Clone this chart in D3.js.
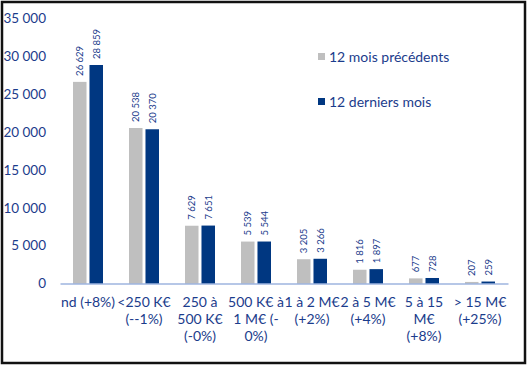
<!DOCTYPE html>
<html>
<head>
<meta charset="utf-8">
<script src="https://cdn.jsdelivr.net/npm/d3@7"></script>
<style>
  body { margin: 0; background: #fff; }
  svg { display: block; font-family: Lato, "Open Sans", sans-serif; }
</style>
</head>
<body>
<div id="chart"></div>
<script>
// categories (lines of each x label)
const categories = [
  ["nd (+8%)"],
  ["<250 K€", "(--1%)"],
  ["250 à", "500 K€", "(-0%)"],
  ["500 K€ à", "1 M€ (-", "0%)"],
  ["1 à 2 M€", "(+2%)"],
  ["2 à 5 M€", "(+4%)"],
  ["5 à 15", "M€", "(+8%)"],
  ["> 15 M€", "(+25%)"]
];
const previous12 = [26629, 20538, 7629, 5539, 3205, 1816, 677, 207];
const last12 = [28859, 20370, 7651, 5544, 3266, 1897, 728, 259];
const seriesNames = ["12 mois précédents", "12 derniers mois"];
const yTicks = [0, 5000, 10000, 15000, 20000, 25000, 30000, 35000];

const width = 529, height = 368;
const textBlue = "#1b3c8c";
const colors = ["#bfbfbf", "#003781"];
const fmt = v => d3.format(",")(v).replace(/,/g, " ");

const svg = d3.select("#chart").append("svg")
  .attr("width", width)
  .attr("height", height);

// frame
svg.append("rect")
  .attr("x", 2).attr("y", 2)
  .attr("width", 523).attr("height", 361)
  .attr("fill", "#fff")
  .attr("stroke", "#111")
  .attr("stroke-width", 2.5);

const x = d3.scaleBand()
  .domain(d3.range(categories.length))
  .range([60, 508]);

const y = d3.scaleLinear()
  .domain([0, 35000])
  .range([283.5, 18.5]);

const sub = d3.scaleBand()
  .domain([0, 1])
  .range([x.bandwidth() / 2 - 15, x.bandwidth() / 2 + 15])
  .paddingInner(0.18);

// y axis labels
const yAxis = svg.append("g")
  .attr("transform", "translate(46,0)")
  .call(d3.axisLeft(y).tickValues(yTicks).tickSize(0).tickPadding(0)
    .tickFormat(fmt));
yAxis.select(".domain").remove();
yAxis.selectAll("text")
  .attr("fill", textBlue)
  .style("font-size", "13.5px")
  .style("font-family", "Lato, 'Open Sans', sans-serif");

// bars
const data = [previous12, last12];
data.forEach((vals, s) => {
  const g = svg.append("g");
  g.selectAll("rect")
    .data(vals)
    .enter()
    .append("rect")
    .attr("x", (d, i) => x(i) + sub(s))
    .attr("y", d => y(d))
    .attr("width", sub.bandwidth())
    .attr("height", d => y(0) - y(d))
    .attr("fill", colors[s]);

  g.selectAll("text")
    .data(vals)
    .enter()
    .append("text")
    .attr("transform", (d, i) =>
      "translate(" + (x(i) + sub(s) + sub.bandwidth() / 2 + 3.5) + "," + (y(d) - 6) + ") rotate(-90)")
    .attr("fill", textBlue)
    .style("font-size", "9.5px")
    .text(d => fmt(d));
});

// x axis
const xAxis = svg.append("g")
  .attr("transform", "translate(0," + y(0) + ")")
  .call(d3.axisBottom(x).tickSize(0).tickFormat(""));
xAxis.select(".domain")
  .attr("stroke", "#6f8fd0")
  .attr("stroke-width", 1.2);

const labels = svg.append("g");
categories.forEach((lines, i) => {
  const t = labels.append("text")
    .attr("x", x(i) + x.bandwidth() / 2)
    .attr("y", 307)
    .attr("text-anchor", "middle")
    .attr("fill", textBlue)
    .style("font-size", "14px");
  lines.forEach((l, j) => {
    t.append("tspan")
      .attr("x", x(i) + x.bandwidth() / 2)
      .attr("dy", j === 0 ? 0 : 17)
      .text(l);
  });
});

// legend
const legend = svg.append("g");
seriesNames.forEach((name, s) => {
  const ly = 57 + s * 45;
  legend.append("rect")
    .attr("x", 318).attr("y", ly - 4)
    .attr("width", 7).attr("height", 7)
    .attr("fill", colors[s]);
  legend.append("text")
    .attr("x", 329).attr("y", ly + 5)
    .attr("fill", textBlue)
    .style("font-size", "14px")
    .text(name);
});
</script>
</body>
</html>
